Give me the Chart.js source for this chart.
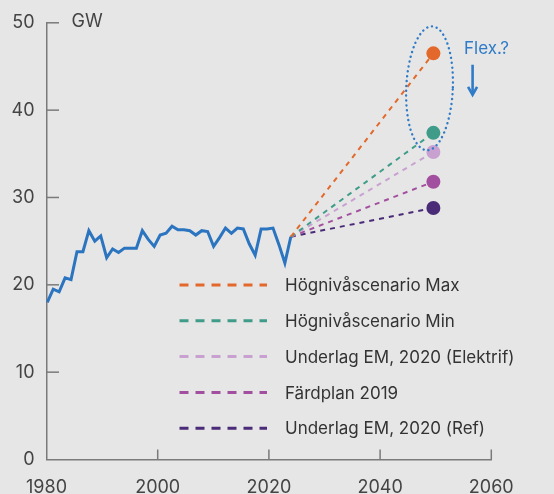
<!DOCTYPE html>
<html>
<head>
<meta charset="utf-8">
<script src="https://cdn.jsdelivr.net/npm/chart.js@4.4.1/dist/chart.umd.min.js"></script>
<style>
  html, body { margin: 0; padding: 0; background: #e6e6e6; }
  #wrap { width: 554px; height: 494px; }
</style>
</head>
<body>
<div id="wrap"><canvas id="chart"></canvas></div>
<script>
// Historical peak demand (GW), 1980-2021
const years = [1980, 1981, 1982, 1983, 1984, 1985, 1986, 1987, 1988, 1989,
               1990, 1991, 1992, 1993, 1994, 1995, 1996, 1997, 1998, 1999,
               2000, 2001, 2002, 2003, 2004, 2005, 2006, 2007, 2008, 2009,
               2010, 2011, 2012, 2013, 2014, 2015, 2016, 2017, 2018, 2019,
               2020, 2021];
const history = [18.0, 19.5, 19.2, 20.8, 20.6, 23.8, 23.8, 26.2, 25.0, 25.6,
                 23.1, 24.1, 23.7, 24.2, 24.2, 24.2, 26.2, 25.2, 24.4, 25.7,
                 25.9, 26.7, 26.3, 26.3, 26.2, 25.7, 26.2, 26.1, 24.4, 25.4,
                 26.5, 25.9, 26.5, 26.4, 24.7, 23.4, 26.4, 26.4, 26.5, 24.6,
                 22.5, 25.5];

// Scenarios for 2045
const scenarioYear = 2045;
const scenarioNames = ['Högnivåscenario Max', 'Högnivåscenario Min',
                       'Underlag EM, 2020 (Elektrif)', 'Färdplan 2019',
                       'Underlag EM, 2020 (Ref)'];
const scenarioValues = [46.5, 37.4, 35.2, 31.8, 28.8];
const scenarioColors = ['#e2692b', '#3f9c89', '#c9a1d1', '#a34f9f', '#4a2b78'];

const xTickLabels = ['1980', '2000', '2020', '2040', '2060'];
const yTickValues = [0, 10, 20, 30, 40, 50];

const X_MIN = 1979.87, X_MAX = 2054.75;
const FONT = 'Inter, "Noto Sans", sans-serif';
const BLUE = '#2b74c0';
const AXIS = '#7a7a7a';

const lastYear = years[years.length - 1];
const lastValue = history[history.length - 1];

const datasets = [];
scenarioNames.forEach((name, i) => {
    datasets.push({
        label: name,
        data: [{ x: lastYear, y: lastValue }, { x: scenarioYear, y: scenarioValues[i] }],
        borderColor: scenarioColors[i],
        backgroundColor: scenarioColors[i],
        borderWidth: 2,
        borderDash: [5, 5],
        pointRadius: [0, 7],
        pointHoverRadius: [0, 7],
        pointBorderWidth: 0
    });
});
datasets.push({
    label: 'Historik',
    data: years.map((y, i) => ({ x: y, y: history[i] })),
    borderColor: BLUE,
    borderWidth: 3,
    pointRadius: 0,
    tension: 0,
    order: -1
});

// Ticks drawn inwards, annotations and the in-plot legend
const decor = {
    id: 'decor',
    afterDatasetsDraw(chart) {
        const { ctx, chartArea: a, scales: { x, y } } = chart;
        ctx.save();

        // inward tick marks
        ctx.strokeStyle = AXIS;
        ctx.lineWidth = 1.5;
        yTickValues.slice(1).forEach(v => {
            const py = y.getPixelForValue(v);
            ctx.beginPath();
            ctx.moveTo(a.left, py);
            ctx.lineTo(a.left + 12.5, py);
            ctx.stroke();
        });
        x.ticks.slice(1).forEach(t => {
            const px = x.getPixelForValue(t.value);
            ctx.beginPath();
            ctx.moveTo(px, a.bottom);
            ctx.lineTo(px, a.bottom - 10);
            ctx.stroke();
        });

        // unit label
        ctx.fillStyle = '#444';
        ctx.font = '18px ' + FONT;
        ctx.textAlign = 'left';
        ctx.textBaseline = 'middle';
        ctx.fillText('GW', a.left + 25, y.getPixelForValue(50) - 1);

        // dotted ellipse around the high scenarios
        const cx = x.getPixelForValue(2044.35), cy = y.getPixelForValue(42.5);
        const rx = x.getPixelForValue(2044.35 + 3.92) - cx;
        const ry = cy - y.getPixelForValue(42.5 + 7.1);
        ctx.strokeStyle = '#2f7bc8';
        ctx.lineWidth = 2.4;
        ctx.lineCap = 'round';
        ctx.setLineDash([0.1, 4.8]);
        ctx.beginPath();
        ctx.ellipse(cx, cy, rx, ry, 0.045, 0, Math.PI * 2);
        ctx.stroke();
        ctx.setLineDash([]);

        // Flex.? note with arrow
        ctx.fillStyle = '#2f7bc8';
        ctx.font = '17px ' + FONT;
        ctx.textBaseline = 'middle';
        ctx.fillText('Flex.?', x.getPixelForValue(2050.15), y.getPixelForValue(47.0));
        const ax = x.getPixelForValue(2051.6);
        const ay0 = y.getPixelForValue(45.2), ay1 = y.getPixelForValue(41.75);
        ctx.lineWidth = 2.6;
        ctx.lineCap = 'butt';
        ctx.beginPath();
        ctx.moveTo(ax, ay0);
        ctx.lineTo(ax, ay1 - 1);
        ctx.stroke();
        ctx.beginPath();
        ctx.moveTo(ax - 4.5, ay1 - 8);
        ctx.lineTo(ax, ay1);
        ctx.lineTo(ax + 4.5, ay1 - 8);
        ctx.lineJoin = 'miter';
        ctx.stroke();

        // legend
        ctx.font = '17px ' + FONT;
        ctx.textBaseline = 'middle';
        scenarioNames.forEach((name, i) => {
            const ly = 285 + i * 35.8;
            ctx.strokeStyle = scenarioColors[i];
            ctx.lineWidth = 3;
            ctx.setLineDash([9, 7]);
            ctx.beginPath();
            ctx.moveTo(179.5, ly);
            ctx.lineTo(267, ly);
            ctx.stroke();
            ctx.setLineDash([]);
            ctx.fillStyle = '#333';
            ctx.fillText(name, 285, ly + 1);
        });

        ctx.restore();
    }
};

new Chart(document.getElementById('chart'), {
    type: 'line',
    data: { datasets: datasets },
    options: {
        responsive: true,
        maintainAspectRatio: false,
        animation: false,
        devicePixelRatio: 1,
        layout: { padding: { top: 21.5, right: 62.7, left: 0, bottom: 0 } },
        plugins: {
            legend: { display: false },
            tooltip: { enabled: false }
        },
        scales: {
            x: {
                type: 'linear',
                min: X_MIN,
                max: X_MAX,
                afterBuildTicks: (s) => {
                    const step = (X_MAX - X_MIN) / (xTickLabels.length - 1);
                    s.ticks = xTickLabels.map((l, i) => ({ value: X_MIN + i * step }));
                },
                afterFit: (s) => { s.height = 34.5; },
                grid: { display: false, drawTicks: false },
                border: { display: true, color: AXIS, width: 1.5 },
                ticks: {
                    autoSkip: false,
                    maxRotation: 0,
                    padding: 17,
                    color: '#444',
                    font: { family: FONT, size: 18 },
                    callback: (v, i) => xTickLabels[i]
                }
            },
            y: {
                min: 0,
                max: 50,
                afterBuildTicks: (s) => {
                    s.ticks = yTickValues.map(v => ({ value: v }));
                },
                afterFit: (s) => { s.width = 46.5; },
                grid: { display: false, drawTicks: false },
                border: { display: true, color: AXIS, width: 1.5 },
                ticks: {
                    padding: 12,
                    color: '#444',
                    font: { family: FONT, size: 18 }
                }
            }
        }
    },
    plugins: [decor]
});
</script>
</body>
</html>
